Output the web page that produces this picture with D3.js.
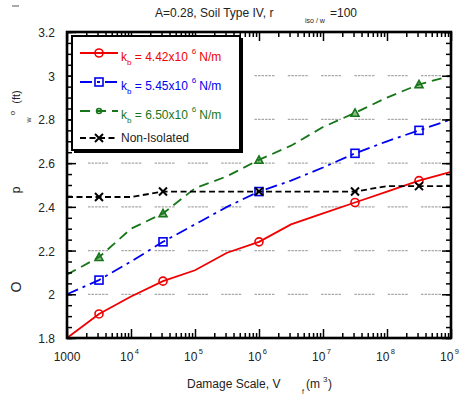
<!DOCTYPE html>
<html><head><meta charset="utf-8">
<script src="https://cdn.jsdelivr.net/npm/d3@7"></script>
<style>body{margin:0;background:#fff} svg{display:block;font-family:"Liberation Sans",Arial,sans-serif}</style>
</head><body><svg id="c" width="460" height="399"></svg>
<script>
// ---- data ----
const damageScale = [1e3, 3.162e3, 1e4, 3.162e4, 1e5, 3.162e5, 1e6, 3.162e6, 1e7, 3.162e7, 1e8, 3.162e8, 1e9];
const kb442 = [1.80, 1.91, 1.99, 2.06, 2.11, 2.19, 2.24, 2.32, 2.37, 2.42, 2.47, 2.52, 2.56];
const kb545 = [2.00, 2.065, 2.15, 2.24, 2.32, 2.40, 2.47, 2.52, 2.58, 2.645, 2.70, 2.75, 2.80];
const kb650 = [2.09, 2.17, 2.30, 2.37, 2.485, 2.54, 2.615, 2.68, 2.765, 2.83, 2.90, 2.96, 3.00];
const nonIsolated = [2.445, 2.445, 2.445, 2.47, 2.47, 2.47, 2.47, 2.47, 2.47, 2.47, 2.495, 2.495, 2.495];
const markerIdx = [1, 3, 6, 9, 11];
const yTicks = [1.8, 2, 2.2, 2.4, 2.6, 2.8, 3, 3.2];
const yTickLabels = ["1.8", "2", "2.2", "2.4", "2.6", "2.8", "3", "3.2"];
const gridVals = [2, 2.2, 2.4, 2.6, 2.8, 3];
const xTicks = [1e3, 1e4, 1e5, 1e6, 1e7, 1e8, 1e9];
const xTickExp = ["", "4", "5", "6", "7", "8", "9"];
const seriesNames = ["4.42", "5.45", "6.50"];

const svg = d3.select("#c");
const L = 67, R = 451, T = 32, B = 338;
const x = d3.scaleLog().domain([1e3, 1e9]).range([L, R]);
const y = d3.scaleLinear().domain([1.8, 3.2]).range([B, T]);

const series = [
  {vals: kb442, color: "#f00000", dash: null, marker: "circle"},
  {vals: kb545, color: "#0000f0", dash: "12,5,3,5", marker: "square"},
  {vals: kb650, color: "#17761a", dash: "10,6", marker: "triangle"},
  {vals: nonIsolated, color: "#000", dash: "6,3.5", marker: "x"}
];

// tiny mark top-left
svg.append("line").attr("x1", 12).attr("x2", 19).attr("y1", 6).attr("y2", 6).attr("stroke", "#555").attr("stroke-width", 1);

// grid segments
const gridG = svg.append("g");
gridVals.forEach(v => {
  d3.range(11).forEach(k => {
    const x0 = L + 21 + k * 33.3;
    gridG.append("line").attr("x1", x0).attr("x2", x0 + 20).attr("y1", y(v)).attr("y2", y(v))
      .attr("stroke", "#a8a8a8").attr("stroke-width", 1.2).attr("stroke-dasharray", "2.5,1");
  });
});

// series lines
const line = d3.line().x((d, i) => x(damageScale[i])).y(d => y(d));
function drawMarker(g, type, cx, cy, color, s) {
  if (type === "circle") g.append("circle").attr("cx", cx).attr("cy", cy).attr("r", s * 0.5).attr("fill", "none").attr("stroke", color).attr("stroke-width", 1.6);
  else if (type === "square") g.append("rect").attr("x", cx - s / 2).attr("y", cy - s / 2).attr("width", s).attr("height", s).attr("fill", "none").attr("stroke", color).attr("stroke-width", 1.6);
  else if (type === "triangle") g.append("path").attr("d", `M${cx},${cy - s / 2}L${cx + s / 2},${cy + s / 2.4}L${cx - s / 2},${cy + s / 2.4}Z`).attr("fill", color).attr("fill-opacity", 0.5).attr("stroke", color).attr("stroke-width", 1.6);
  else if (type === "circleSmall") g.append("circle").attr("cx", cx).attr("cy", cy).attr("r", s * 0.5).attr("fill", "none").attr("stroke", color).attr("stroke-width", 1.5);
  else {
    const h = s / 2;
    g.append("path").attr("d", `M${cx - h},${cy - h}L${cx + h},${cy + h}M${cx - h},${cy + h}L${cx + h},${cy - h}`).attr("stroke", color).attr("stroke-width", 2).attr("fill", "none");
  }
}
const plotG = svg.append("g");
series.forEach(s => {
  plotG.append("path").datum(s.vals).attr("d", line).attr("fill", "none").attr("stroke", s.color)
    .attr("stroke-width", 1.8).attr("stroke-dasharray", s.dash);
  markerIdx.forEach(i => drawMarker(plotG, s.marker, x(damageScale[i]), y(s.vals[i]), s.color, 8));
});

// axes (inward ticks)
const minorY = d3.range(1.8, 3.2001, 0.05);
const minorX = [];
for (let e = 3; e < 9; e++) for (let m = 2; m <= 9; m++) minorX.push(m * Math.pow(10, e));
function styleAxis(g) { g.select(".domain").remove(); g.selectAll("line").attr("stroke", "#000").attr("stroke-width", 1.5); g.selectAll("text").remove(); }
svg.append("g").attr("transform", `translate(${L},0)`).call(d3.axisLeft(y).tickValues(minorY).tickSize(-5)).call(styleAxis);
svg.append("g").attr("transform", `translate(${L},0)`).call(d3.axisLeft(y).tickValues(yTicks).tickSize(-9)).call(styleAxis);
svg.append("g").attr("transform", `translate(${R},0)`).call(d3.axisRight(y).tickValues(minorY).tickSize(-5)).call(styleAxis);
svg.append("g").attr("transform", `translate(${R},0)`).call(d3.axisRight(y).tickValues(yTicks).tickSize(-9)).call(styleAxis);
svg.append("g").attr("transform", `translate(0,${B})`).call(d3.axisBottom(x).tickValues(minorX).tickSize(-5)).call(styleAxis);
svg.append("g").attr("transform", `translate(0,${B})`).call(d3.axisBottom(x).tickValues(xTicks).tickSize(-9)).call(styleAxis);
svg.append("g").attr("transform", `translate(0,${T})`).call(d3.axisTop(x).tickValues(minorX).tickSize(-5)).call(styleAxis);
svg.append("g").attr("transform", `translate(0,${T})`).call(d3.axisTop(x).tickValues(xTicks).tickSize(-9)).call(styleAxis);

// frame
svg.append("rect").attr("x", L).attr("y", T).attr("width", R - L).attr("height", B - T)
  .attr("fill", "none").attr("stroke", "#000").attr("stroke-width", 2.6);

// y tick labels
yTicks.forEach((v, i) => {
  svg.append("text").attr("x", 55).attr("y", y(v) + 5).attr("text-anchor", "end").attr("font-size", 12).attr("fill", "#222").text(yTickLabels[i]);
});
// x tick labels
xTicks.forEach((v, i) => {
  if (xTickExp[i] === "") {
    svg.append("text").attr("x", x(v)).attr("y", 361).attr("text-anchor", "middle").attr("font-size", 12).attr("fill", "#222").text("1000");
  } else {
    const t = svg.append("text").attr("x", x(v) - 11).attr("y", 361).attr("font-size", 12).attr("fill", "#222");
    t.append("tspan").text("10");
    t.append("tspan").attr("font-size", 7.5).attr("dx", 1.5).attr("dy", -7).text(xTickExp[i]);
  }
});

// title
svg.append("text").attr("x", 155).attr("y", 17).attr("font-size", 12).attr("fill", "#222").text("A=0.28, Soil Type IV, r");
svg.append("text").attr("x", 305).attr("y", 23).attr("font-size", 7).attr("fill", "#222").text("iso / w");
svg.append("text").attr("x", 330).attr("y", 17).attr("font-size", 12).attr("fill", "#222").text("=100");

// x label
svg.append("text").attr("x", 187).attr("y", 388).attr("font-size", 12).attr("fill", "#222").text("Damage Scale, V");
svg.append("text").attr("x", 302).attr("y", 394).attr("font-size", 7).attr("fill", "#222").text("f");
svg.append("text").attr("x", 306).attr("y", 388).attr("font-size", 12).attr("fill", "#222").text("(m");
svg.append("text").attr("x", 323).attr("y", 382).attr("font-size", 8).attr("fill", "#222").text("3");
svg.append("text").attr("x", 328).attr("y", 388).attr("font-size", 12).attr("fill", "#222").text(")");

// y label (rotated pieces)
function rot(txt, px, py, fs) {
  svg.append("text").attr("transform", `translate(${px},${py}) rotate(-90)`).attr("text-anchor", "middle")
    .attr("font-size", fs).attr("fill", "#222").text(txt);
}
rot("O", 21, 287, 14);
rot("p", 20, 190, 12);
rot("w", 31, 120, 7);
rot("o", 15, 113, 8);
rot("(ft)", 20, 97, 11);

// legend
const lg = svg.append("g");
lg.append("rect").attr("x", 74).attr("y", 38).attr("width", 169).attr("height", 115).attr("fill", "#000");
lg.append("rect").attr("x", 72).attr("y", 36).attr("width", 168).attr("height", 114).attr("fill", "#fff").attr("stroke", "#000").attr("stroke-width", 2);
const legY = [53, 82, 111, 138];
const legMarkers = ["circle", "square", "circleSmall", "x"];
const legSizes = [8, 8, 5, 8];
series.forEach((s, i) => {
  const ly = legY[i];
  lg.append("line").attr("x1", 80).attr("x2", 118).attr("y1", ly).attr("y2", ly).attr("stroke", s.color)
    .attr("stroke-width", 1.8).attr("stroke-dasharray", s.dash);
  drawMarker(lg, legMarkers[i], 99, ly, s.color, legSizes[i]);
  if (i < 3) {
    const t = lg.append("text").attr("x", 121).attr("y", ly + 8).attr("font-size", 12).attr("fill", s.color);
    t.append("tspan").text("k");
    t.append("tspan").attr("font-size", 8).attr("dy", 4).text("b");
    t.append("tspan").attr("dy", -4).text(" = " + seriesNames[i] + "x10");
    t.append("tspan").attr("font-size", 8).attr("dx", 4).attr("dy", -7).text("6");
    t.append("tspan").attr("dx", 3).attr("dy", 7).text("N/m");
  } else {
    lg.append("text").attr("x", 121).attr("y", ly + 4).attr("font-size", 12).attr("fill", "#222").text("Non-Isolated");
  }
});
</script></body></html>
